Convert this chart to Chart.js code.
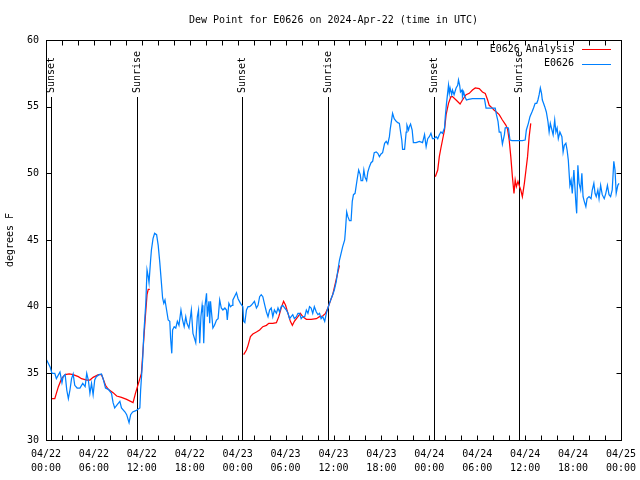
<!DOCTYPE html>
<html><head><meta charset="utf-8">
<script src="https://cdn.jsdelivr.net/npm/chart.js@4"></script>
<style>html,body{margin:0;padding:0;background:#fff}canvas{display:block}</style>
</head><body>
<canvas id="c" width="640" height="480"></canvas>
<script>
const chartTitle = 'Dew Point for E0626 on 2024-Apr-22 (time in UTC)';
const yAxisTitle = 'degrees F';
const seriesNames = ['E0626 Analysis', 'E0626'];
const seriesColors = ['rgb(255,0,0)', 'rgb(0,128,255)'];
const xTickDates = ['04/22','04/22','04/22','04/22','04/23','04/23','04/23','04/23','04/24','04/24','04/24','04/24','04/25'];
const xTickTimes = ['00:00','06:00','12:00','18:00','00:00','06:00','12:00','18:00','00:00','06:00','12:00','18:00','00:00'];
const yTicks = [30, 35, 40, 45, 50, 55, 60];
const sunHours = [0.6, 11.35, 24.6, 35.25, 48.6, 59.2];
const sunNames = ['Sunset','Sunrise','Sunset','Sunrise','Sunset','Sunrise'];

const obsHours = [0.0,0.5,0.75,1.1,1.3,1.75,2.0,2.15,2.4,2.6,2.8,3.0,3.2,3.4,3.6,3.9,4.25,4.6,4.9,5.1,5.3,5.5,5.7,5.9,6.1,6.3,6.65,6.95,7.15,7.45,7.8,8.2,8.4,8.6,8.85,9.25,9.45,9.9,10.1,10.4,10.6,10.85,11.25,11.75,11.85,12.1,12.25,12.5,12.65,12.8,12.9,13.1,13.2,13.4,13.6,13.85,14.05,14.25,14.45,14.6,14.75,14.9,15.1,15.3,15.5,15.6,15.75,15.85,16.05,16.25,16.45,16.65,16.9,17.1,17.3,17.5,17.65,17.9,18.2,18.4,18.6,18.75,18.95,19.1,19.25,19.4,19.55,19.65,19.75,19.9,20.1,20.2,20.4,20.5,20.6,20.75,20.9,21.1,21.35,21.55,21.75,21.95,22.15,22.4,22.6,22.7,22.9,23.1,23.3,23.4,23.6,23.85,24.05,24.35,24.65,24.75,24.9,25.1,25.3,25.5,25.7,25.9,26.1,26.35,26.55,26.75,26.95,27.15,27.4,27.6,27.8,28.0,28.2,28.4,28.6,28.85,29.05,29.25,29.45,29.65,29.9,30.1,30.3,30.5,30.7,30.9,31.1,31.35,31.55,31.75,31.95,32.15,32.4,32.6,32.8,33.0,33.2,33.4,33.6,33.85,34.05,34.25,34.45,34.65,34.9,35.1,35.3,35.5,35.7,35.9,36.1,36.35,36.55,36.75,36.95,37.15,37.4,37.5,37.65,37.8,38.0,38.2,38.35,38.5,38.7,38.85,38.95,39.15,39.35,39.45,39.65,39.8,39.95,40.15,40.3,40.5,40.7,40.9,41.1,41.35,41.55,41.75,41.95,42.15,42.4,42.6,42.8,43.0,43.1,43.3,43.4,43.6,43.85,44.05,44.25,44.4,44.55,44.65,44.9,45.1,45.2,45.4,45.5,45.65,45.85,46.0,46.35,46.75,47.15,47.4,47.6,47.8,48.0,48.2,48.4,48.6,48.85,49.05,49.25,49.45,49.65,49.9,50.0,50.15,50.4,50.5,50.6,50.8,50.9,51.1,51.35,51.55,51.65,51.8,51.9,52.1,52.15,52.3,52.45,52.65,52.9,53.4,54.05,54.45,54.9,55.1,55.5,55.9,56.25,56.4,56.6,56.75,56.95,57.15,57.4,57.5,57.65,57.9,58.1,58.35,58.85,59.25,59.65,60.0,60.15,60.4,60.6,60.85,61.05,61.25,61.45,61.6,61.75,61.9,62.05,62.15,62.3,62.45,62.65,62.85,63.0,63.15,63.35,63.5,63.7,63.85,64.0,64.15,64.35,64.6,64.75,64.9,65.1,65.25,65.4,65.6,65.75,65.9,66.1,66.35,66.45,66.6,66.75,66.95,67.1,67.25,67.4,67.6,67.75,68.0,68.25,68.4,68.6,68.75,68.9,69.1,69.25,69.45,69.65,69.9,70.1,70.3,70.5,70.7,70.9,71.1,71.25,71.4,71.6,71.75];
const obsDew = [36.1,35.5,35.0,35.0,34.6,35.1,34.3,34.75,34.9,33.75,33.1,33.75,34.6,34.95,34.1,33.9,33.9,34.25,34.0,35.0,34.5,33.5,34.25,33.4,34.5,34.75,34.9,34.95,34.6,33.9,33.8,33.5,32.8,32.4,32.6,32.9,32.4,32.1,31.9,31.3,31.9,32.1,32.2,32.4,33.75,36.0,38.0,40.3,42.75,42.25,41.8,43.5,44.25,45.1,45.5,45.4,44.6,43.3,41.8,40.65,40.25,40.5,39.75,39.0,38.9,37.65,36.5,38.25,38.5,38.4,38.9,38.6,39.75,39.0,38.5,39.25,38.75,38.4,39.75,38.0,37.6,37.3,39.25,39.75,37.25,39.25,40.1,39.5,37.25,40.0,41.0,39.25,40.4,38.75,40.4,39.4,38.4,38.6,39.0,39.1,40.5,39.9,39.75,39.9,39.75,39.0,40.25,40.0,40.1,40.5,40.75,41.05,40.6,40.25,40.0,38.9,38.8,39.75,40.0,40.0,40.1,40.25,40.4,39.9,40.1,40.75,40.9,40.75,40.1,39.6,39.25,39.75,39.9,39.25,39.75,39.5,39.9,39.6,40.0,40.1,39.9,39.75,39.5,39.1,39.25,39.4,39.1,39.25,39.5,39.5,39.1,39.25,39.25,39.75,39.5,40.0,39.9,39.5,40.0,39.6,39.4,39.5,39.1,39.25,38.9,39.5,39.9,40.25,40.6,40.9,41.25,41.9,42.75,43.5,44.0,44.5,45.0,45.75,47.1,46.75,46.45,46.45,47.9,48.4,48.5,49.1,49.5,50.25,49.9,49.45,49.45,50.25,49.7,49.45,50.1,50.5,50.8,50.9,51.55,51.6,51.5,51.25,51.45,51.55,52.25,52.4,52.2,52.75,53.3,54.1,54.5,54.1,53.9,53.8,53.75,53.1,52.5,51.8,51.8,53.1,53.6,53.25,53.5,53.7,53.25,52.3,52.3,52.4,52.3,52.9,52.0,52.6,52.75,53.0,52.6,52.6,52.75,52.6,52.9,53.1,53.0,53.4,54.25,55.25,56.6,56.0,56.4,55.9,56.25,55.9,56.4,56.6,57.0,56.6,56.1,56.25,55.75,56.1,55.75,55.5,55.55,55.6,55.6,55.6,55.6,54.9,54.9,54.9,54.9,54.4,53.9,53.1,53.1,52.2,52.9,53.4,53.45,53.4,52.5,52.45,52.45,52.45,52.45,52.5,53.25,53.75,54.25,54.6,54.9,55.25,55.25,55.5,55.9,56.4,56.0,55.5,55.25,55.0,54.6,53.9,53.1,53.75,53.25,52.9,54.0,53.1,53.4,52.6,53.1,52.75,51.6,52.1,52.25,51.75,51.0,49.1,49.5,48.5,50.25,47.75,47.0,50.6,49.25,48.75,50.0,48.25,47.9,47.5,48.1,48.25,48.1,48.75,49.25,48.5,48.25,48.75,48.1,49.1,48.4,48.1,48.5,49.1,48.4,48.25,48.75,50.9,50.25,48.5,49.1,49.25];

const anaHours = [0.75,1.1,1.55,1.95,2.4,2.9,3.4,4.05,4.45,5.1,5.5,5.9,6.55,6.95,7.15,7.45,7.8,8.4,8.85,9.45,10.1,10.9,11.2,11.65,11.95,12.15,12.45,12.65,12.8,13.0,18.0,24.75,25.1,25.3,25.6,25.9,26.35,26.75,27.15,27.6,27.9,28.4,28.85,29.15,29.45,29.75,30.0,30.3,30.6,30.85,31.1,31.55,31.85,32.15,32.6,33.2,33.85,34.25,34.65,35.0,35.3,35.5,35.9,36.25,36.55,36.75,42.0,48.75,49.05,49.25,49.45,49.65,49.9,50.1,50.4,50.7,50.9,51.35,51.85,52.15,52.6,53.0,53.4,53.75,54.25,54.65,55.0,55.3,55.5,55.7,56.1,56.4,56.75,57.15,57.6,57.8,58.0,58.2,58.4,58.6,58.75,58.9,59.1,59.25,59.45,59.65,59.9,60.1,60.3,60.5,60.7];
const anaDew = [33.1,33.1,34.0,34.6,34.9,34.95,34.9,34.75,34.6,34.5,34.5,34.7,34.9,34.9,34.6,34.1,33.8,33.55,33.3,33.2,33.05,32.8,33.5,34.4,35.0,36.75,39.3,40.9,41.3,41.3,null,36.4,36.75,37.1,37.75,37.95,38.1,38.25,38.5,38.6,38.75,38.75,38.8,39.25,39.9,40.4,40.1,39.5,38.9,38.6,38.9,39.25,39.5,39.25,39.05,39.05,39.1,39.25,39.3,39.5,39.9,40.25,40.9,41.8,42.6,43.1,null,49.75,50.25,51.25,51.9,52.5,53.25,54.4,55.25,55.75,55.75,55.5,55.2,55.5,55.9,56.0,56.25,56.4,56.35,56.1,56.0,55.5,55.1,55.0,54.75,54.6,54.4,54.0,53.6,53.3,52.5,51.25,49.75,48.5,49.5,49.0,49.4,49.1,48.75,48.25,49.25,50.25,51.25,52.75,53.75];

const FONT = "10px 'DejaVu Sans Mono', monospace";
Chart.defaults.font.family = "'DejaVu Sans Mono', monospace";
Chart.defaults.font.size = 10;
Chart.defaults.color = '#000';

const toPoints = (xs, ys) => xs.map((h, i) => ({x: h, y: ys[i]}));

const frame = {
  id: 'frame',
  beforeDatasetsDraw(chart) {
    const {ctx, chartArea: a, scales: {x}} = chart;
    ctx.save();
    ctx.strokeStyle = '#000'; ctx.lineWidth = 1; ctx.fillStyle = '#000'; ctx.font = FONT;
    sunHours.forEach((h, i) => {
      const px = Math.round(x.getPixelForValue(h)) + 0.5;
      ctx.beginPath(); ctx.moveTo(px, a.top + 57); ctx.lineTo(px, a.bottom); ctx.stroke();
      ctx.save(); ctx.translate(px, a.top + 53); ctx.rotate(-Math.PI / 2);
      ctx.textAlign = 'left'; ctx.textBaseline = 'middle';
      ctx.fillText(sunNames[i], 0, 0);
      ctx.restore();
    });
    ctx.restore();
  },
  afterDatasetsDraw(chart) {
    const {ctx, chartArea: a, scales: {x, y}} = chart;
    ctx.save();
    ctx.strokeStyle = '#000'; ctx.lineWidth = 1; ctx.fillStyle = '#000'; ctx.font = FONT;
    const L = Math.round(a.left) + 0.5, R = Math.round(a.right) + 0.5;
    const T = Math.round(a.top) + 0.5, B = Math.round(a.bottom) + 0.5;
    ctx.beginPath();
    for (let h = 0; h <= 72; h += 2) {
      const px = Math.round(x.getPixelForValue(h)) + 0.5;
      ctx.moveTo(px, B); ctx.lineTo(px, B - 5);
      ctx.moveTo(px, T); ctx.lineTo(px, T + 5);
    }
    yTicks.forEach(v => {
      const py = Math.round(y.getPixelForValue(v)) + 0.5;
      ctx.moveTo(L, py); ctx.lineTo(L + 5, py);
      ctx.moveTo(R, py); ctx.lineTo(R - 5, py);
    });
    ctx.stroke();
    ctx.strokeRect(L, T, R - L, B - T);
    // legend
    ctx.textAlign = 'right'; ctx.textBaseline = 'middle';
    seriesNames.forEach((n, i) => {
      const ly = a.top + 9 + i * 14.5;
      ctx.fillStyle = '#000';
      ctx.fillText(n, a.right - 47, ly);
      ctx.strokeStyle = seriesColors[i];
      ctx.beginPath(); ctx.moveTo(a.right - 39, Math.round(ly) + 0.5); ctx.lineTo(a.right - 10, Math.round(ly) + 0.5); ctx.stroke();
    });
    // title
    ctx.fillStyle = '#000'; ctx.textAlign = 'center'; ctx.textBaseline = 'middle';
    ctx.fillText(chartTitle, (a.left + a.right) / 2, 20);
    // y-axis title
    ctx.save(); ctx.translate(10, (a.top + a.bottom) / 2); ctx.rotate(-Math.PI / 2);
    ctx.fillText(yAxisTitle, 0, 0); ctx.restore();
    ctx.restore();
  }
};

new Chart(document.getElementById('c'), {
  type: 'line',
  data: {
    datasets: [
      {label: seriesNames[0], data: toPoints(anaHours, anaDew), borderColor: seriesColors[0], borderWidth: 1.25, pointRadius: 0, tension: 0, spanGaps: false, order: 1},
      {label: seriesNames[1], data: toPoints(obsHours, obsDew), borderColor: seriesColors[1], borderWidth: 1.25, pointRadius: 0, tension: 0, order: 0}
    ]
  },
  options: {
    responsive: false, animation: false, devicePixelRatio: 1,
    layout: {padding: {top: 40, right: 19, left: 0, bottom: 0}},
    plugins: {legend: {display: false}, tooltip: {enabled: false}, title: {display: false}},
    scales: {
      x: {
        type: 'linear', min: 0, max: 72,
        grid: {display: false, drawTicks: false}, border: {display: false},
        ticks: {stepSize: 6, padding: 7, maxRotation: 0, autoSkip: false, font: {size: 10, lineHeight: 1.4},
          callback: v => { const i = Math.round(v / 6); return [xTickDates[i], xTickTimes[i]]; }},
        afterFit: s => { s.height = 40; s.paddingLeft = 0; s.paddingRight = 0; }
      },
      y: {
        min: 30, max: 60,
        grid: {display: false, drawTicks: false}, border: {display: false},
        ticks: {stepSize: 5, padding: 7, font: {size: 10}},
        afterFit: s => { s.width = 46; s.paddingTop = 0; s.paddingBottom = 0; }
      }
    }
  },
  plugins: [frame]
});
</script>
</body></html>
